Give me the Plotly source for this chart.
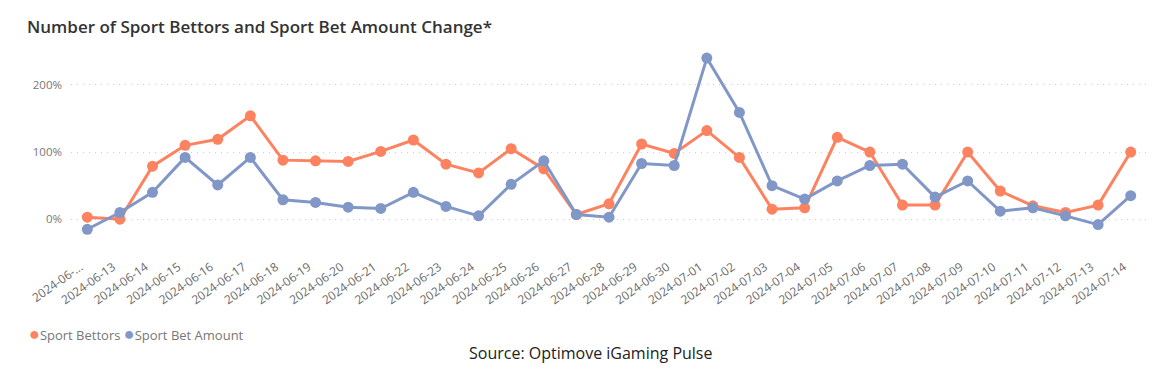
import plotly.graph_objects as go

dates = ["2024-06-12", "2024-06-13", "2024-06-14", "2024-06-15", "2024-06-16", "2024-06-17",
         "2024-06-18", "2024-06-19", "2024-06-20", "2024-06-21", "2024-06-22", "2024-06-23",
         "2024-06-24", "2024-06-25", "2024-06-26", "2024-06-27", "2024-06-28", "2024-06-29",
         "2024-06-30", "2024-07-01", "2024-07-02", "2024-07-03", "2024-07-04", "2024-07-05",
         "2024-07-06", "2024-07-07", "2024-07-08", "2024-07-09", "2024-07-10", "2024-07-11",
         "2024-07-12", "2024-07-13", "2024-07-14"]
tick_labels = ["2024-06-..."] + dates[1:]
y_ticks = [0, 100, 200]
y_tick_labels = ["0%", "100%", "200%"]

sport_bettors = [3, 0, 79, 110, 119, 154, 88, 87, 86, 101, 118, 82, 69, 105, 75, 7, 23, 112,
                 98, 132, 92, 15, 17, 122, 100, 21, 21, 100, 42, 20, 10, 21, 100]
sport_bet_amount = [-15, 10, 40, 92, 51, 92, 29, 25, 18, 16, 40, 19, 5, 52, 87, 7, 3, 83,
                    80, 240, 159, 50, 30, 57, 80, 82, 33, 57, 12, 17, 5, -8, 35]

ORANGE = "#FD8260"
BLUE = "#8197C7"

# page body has an 8px default margin; figure coordinates are offset accordingly
W, H = 1159, 375
L, R, T, B = 63, 20, 40, 147
PW, PH = W - L - R, H - T - B

fig = go.Figure()
for name, vals, col in [("Sport Bettors", sport_bettors, ORANGE),
                        ("Sport Bet Amount", sport_bet_amount, BLUE)]:
    fig.add_trace(go.Scatter(x=dates, y=vals, mode="lines+markers", name=name,
                             line=dict(color=col, width=3),
                             marker=dict(color=col, size=11),
                             showlegend=False))

fig.update_layout(
    width=W, height=H,
    margin=dict(l=L, r=R, t=T, b=B),
    paper_bgcolor="white", plot_bgcolor="white",
    font=dict(family="Open Sans, sans-serif", color="#666666"),
    title=dict(text="Number of Sport Bettors and Sport Bet Amount Change*",
               x=19 / W, xref="container", xanchor="left",
               y=1 - 19 / H, yref="container", yanchor="middle",
               font=dict(size=17, color="#333333", weight=600)),
    showlegend=False,
)
fig.update_xaxes(type="category", range=[-0.5, len(dates) - 0.5],
                 tickmode="array", tickvals=dates, ticktext=tick_labels,
                 tickangle=-35, tickfont=dict(size=12, color="#6a6a6a"),
                 ticklabelstandoff=21, ticklabelshift=-7,
                 showgrid=False, zeroline=False, showline=False, ticks="")
fig.update_yaxes(range=[-25, 255], tickmode="array", tickvals=y_ticks, ticktext=y_tick_labels,
                 tickfont=dict(size=11.5, color="#777777"),
                 showgrid=True, gridcolor="#cfcfcf", griddash="1px,5px", gridwidth=1.3,
                 zeroline=False, showline=False, ticks="", ticklabelstandoff=8)

legend_text = (f"<span style='color:{ORANGE};font-size:18px'>●</span>Sport Bettors "
               f"<span style='color:{BLUE};font-size:18px'>●</span>Sport Bet Amount")
fig.add_annotation(text=legend_text, xref="paper", yref="paper",
                   x=(19 - L) / PW, y=(T + PH - 325) / PH, xanchor="left", yanchor="middle",
                   showarrow=False, font=dict(size=13, color="#777777"))
fig.add_annotation(text="Source: Optimove iGaming Pulse", xref="paper", yref="paper",
                   x=(582 - L) / PW, y=(T + PH - 345) / PH, xanchor="center", yanchor="middle",
                   showarrow=False, font=dict(size=16, color="#222222"))

fig.write_html("out.html")
